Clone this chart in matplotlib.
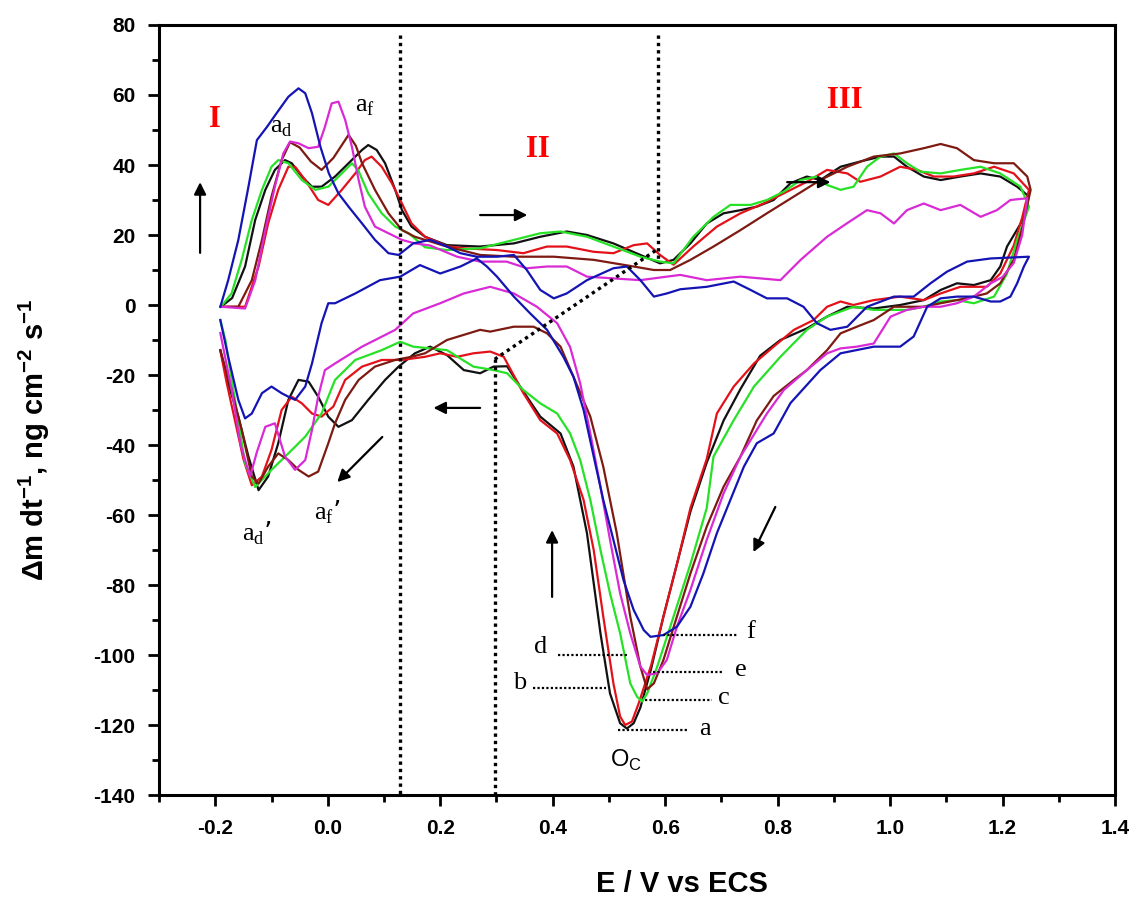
import matplotlib
matplotlib.use('Agg')
import matplotlib.pyplot as plt
import numpy as np
from matplotlib.ticker import MultipleLocator, FormatStrFormatter

plt.rcParams['axes.unicode_minus'] = False
plt.rcParams['font.family'] = 'Liberation Sans'

# (E / V, dm/dt); each loop = forward sweep then return sweep
black_fwd = [(-0.19, -0.5), (-0.17, 2), (-0.147, 11), (-0.129, 24.3), (-0.111, 32.9), (-0.094, 38.6),
             (-0.076, 41.4), (-0.064, 40.5), (-0.046, 36.7), (-0.028, 33.8), (-0.011, 33.8), (0.013, 36.7),
             (0.037, 40.5), (0.061, 44.3), (0.072, 45.7), (0.087, 44.3), (0.102, 40.5), (0.12, 32.9),
             (0.132, 27.1), (0.149, 22.4), (0.173, 19.5), (0.212, 17.1), (0.271, 16.7), (0.331, 17.6),
             (0.378, 19.5), (0.425, 21), (0.461, 20), (0.508, 17.6), (0.556, 14.3), (0.591, 11.9),
             (0.615, 12.9), (0.645, 17.6), (0.674, 23.3), (0.704, 26.2), (0.734, 27.1), (0.763, 28.1),
             (0.793, 30), (0.823, 34.8), (0.852, 36.7), (0.876, 35.7), (0.912, 39.5), (0.947, 41),
             (0.983, 42.4), (1.007, 42.4), (1.03, 39.5), (1.06, 36.7), (1.09, 35.7), (1.125, 36.7),
             (1.161, 37.6), (1.196, 36.7), (1.226, 33.8), (1.247, 31)]
black_rev = [(1.247, 31), (1.235, 24), (1.208, 16.7), (1.196, 11), (1.179, 7.1), (1.149, 5.7),
             (1.119, 6.2), (1.09, 4.3), (1.06, 1.4), (1.018, 0), (0.971, -1), (0.924, -0.5),
             (0.888, -3.3), (0.852, -6.7), (0.805, -10), (0.769, -14.5), (0.734, -24), (0.704, -33),
             (0.674, -45), (0.645, -59), (0.621, -74), (0.597, -89), (0.575, -104), (0.556, -115),
             (0.544, -119.5), (0.532, -121), (0.52, -119.5), (0.502, -111), (0.485, -93.8),
             (0.461, -65.2), (0.437, -46.2), (0.414, -36.7), (0.378, -31.9), (0.342, -23.3),
             (0.319, -17.5), (0.295, -17.6), (0.271, -19.5), (0.242, -18.6), (0.212, -14.3),
             (0.182, -11.9), (0.155, -13.8), (0.126, -17.6), (0.102, -21.4), (0.072, -27.1),
             (0.043, -32.9), (0.019, -34.8), (0.001, -31.9), (-0.017, -26.2), (-0.034, -21.9),
             (-0.052, -21.4), (-0.07, -27.1), (-0.088, -39.5), (-0.106, -49), (-0.123, -52.9),
             (-0.141, -43.3), (-0.159, -31.9), (-0.177, -22.4), (-0.191, -12.9)]

red_fwd = [(-0.19, -0.5), (-0.16, -0.5), (-0.147, -0.5), (-0.123, 11), (-0.106, 23.3), (-0.088, 32.9),
           (-0.07, 39.5), (-0.058, 39.5), (-0.04, 35.7), (-0.017, 30), (0.001, 28.6), (0.025, 32.9),
           (0.049, 37.6), (0.066, 41.4), (0.078, 42.4), (0.096, 39.5), (0.114, 34.8), (0.132, 29),
           (0.149, 23.3), (0.173, 19.5), (0.212, 16.8), (0.242, 16.2), (0.301, 15.7), (0.348, 14.8),
           (0.39, 16.7), (0.425, 16.7), (0.473, 15.2), (0.508, 14.8), (0.544, 17.1), (0.568, 17.6),
           (0.591, 14.3), (0.615, 11.5), (0.65, 16.7), (0.692, 22.4), (0.734, 26.2), (0.775, 29),
           (0.811, 31.9), (0.852, 35.2), (0.888, 38.6), (0.924, 37.6), (0.947, 35.2), (0.983, 36.7),
           (1.018, 39.5), (1.048, 38.6), (1.078, 36.7), (1.113, 36.7), (1.149, 37.6), (1.185, 39.5),
           (1.22, 37.6), (1.247, 32.9)]
red_rev = [(1.247, 32.9), (1.235, 25), (1.22, 17), (1.196, 9), (1.172, 5.2), (1.125, 5.2), (1.09, 3.3),
           (1.06, 1.4), (1.018, 2.4), (0.971, 1.4), (0.935, 0), (0.912, 1), (0.888, -0.5), (0.864, -4.3),
           (0.829, -7.1), (0.793, -11.9), (0.758, -16.7), (0.722, -23.3), (0.692, -31), (0.674, -44),
           (0.645, -58), (0.621, -74), (0.597, -89), (0.575, -103), (0.553, -113.8), (0.541, -119),
           (0.529, -120), (0.52, -117.6), (0.508, -108.1), (0.49, -89), (0.473, -70), (0.455, -55.7),
           (0.431, -44.3), (0.408, -36.7), (0.378, -32.9), (0.348, -25.2), (0.313, -14.8), (0.289, -13.3),
           (0.259, -13.8), (0.23, -14.8), (0.2, -13.8), (0.173, -14.8), (0.132, -15.7), (0.096, -15.7),
           (0.061, -17.6), (0.031, -21.4), (0.01, -29), (-0.011, -31.9), (-0.028, -31), (-0.046, -28.1),
           (-0.064, -26.2), (-0.082, -30), (-0.1, -41.4), (-0.117, -49), (-0.135, -51.5), (-0.15, -44),
           (-0.165, -33), (-0.18, -22), (-0.191, -13)]

green_fwd = [(-0.19, -0.5), (-0.171, 3.3), (-0.153, 12.9), (-0.135, 24.3), (-0.117, 32.9), (-0.1, 39.5),
             (-0.088, 41.4), (-0.07, 40.5), (-0.046, 35.7), (-0.022, 32.9), (0.001, 33.8), (0.025, 37.6),
             (0.043, 40.5), (0.054, 38.6), (0.072, 31.9), (0.096, 26.2), (0.12, 22.4), (0.144, 20.5),
             (0.173, 16.5), (0.212, 15.7), (0.271, 16.2), (0.331, 18.6), (0.378, 20.5), (0.414, 21),
             (0.461, 19.5), (0.508, 16.7), (0.556, 13.8), (0.591, 12.4), (0.615, 11.9), (0.65, 19.5),
             (0.686, 25.2), (0.716, 28.6), (0.752, 28.6), (0.781, 30), (0.811, 32.4), (0.841, 35.7),
             (0.87, 36.7), (0.888, 34.3), (0.912, 32.9), (0.935, 33.8), (0.959, 39.5), (0.983, 42.4),
             (1.007, 43.3), (1.03, 40.5), (1.054, 38.1), (1.09, 37.6), (1.125, 38.6), (1.161, 39.5),
             (1.196, 37.6), (1.232, 33.8), (1.247, 28.1)]
green_rev = [(1.247, 28.1), (1.226, 18.6), (1.208, 9), (1.185, 2.4), (1.149, 0.5), (1.119, 1.4),
             (1.09, 1), (1.06, -0.5), (1.03, -1.4), (0.971, -1.4), (0.935, -0.5), (0.888, -3.3),
             (0.852, -7.1), (0.805, -14.8), (0.758, -23.3), (0.722, -32.9), (0.686, -43.3), (0.674, -58),
             (0.645, -74), (0.615, -89), (0.586, -103.3), (0.568, -111), (0.559, -113.3), (0.55, -111.9),
             (0.538, -108.1), (0.52, -93.8), (0.502, -82.4), (0.485, -70), (0.467, -55.7), (0.449, -44.3),
             (0.431, -36.7), (0.408, -31), (0.378, -28.1), (0.348, -24.3), (0.319, -19.5), (0.295, -18.6),
             (0.259, -17.6), (0.212, -12.9), (0.152, -11.9), (0.129, -10.5), (0.096, -12.9), (0.049, -15.7),
             (0.013, -21.4), (-0.011, -31), (-0.04, -37.6), (-0.07, -42.4), (-0.1, -47.1), (-0.129, -52),
             (-0.147, -45.2), (-0.165, -27.1), (-0.182, -10), (-0.191, -4.3)]

maroon_fwd = [(-0.19, -0.5), (-0.159, -0.5), (-0.135, 7.1), (-0.117, 18.6), (-0.1, 31), (-0.082, 41.4),
              (-0.067, 46.5), (-0.05, 45), (-0.03, 41), (-0.011, 38.6), (0.01, 42), (0.037, 48.6),
              (0.05, 45.5), (0.061, 40.5), (0.084, 32.9), (0.108, 26.2), (0.132, 21.4), (0.155, 19.5),
              (0.212, 16.7), (0.271, 14.3), (0.331, 13.8), (0.402, 13.8), (0.473, 12.9), (0.544, 11),
              (0.58, 10), (0.609, 10), (0.645, 12.9), (0.686, 16.7), (0.734, 21.4), (0.781, 26.2),
              (0.829, 31), (0.876, 35.7), (0.924, 39.5), (0.971, 42.4), (1.018, 43.3), (1.06, 44.8),
              (1.09, 46), (1.119, 44.8), (1.149, 41.4), (1.185, 40.5), (1.22, 40.5), (1.244, 36.7),
              (1.25, 32.9)]
maroon_rev = [(1.25, 32.9), (1.235, 22), (1.22, 12.9), (1.196, 6.2), (1.172, 3.3), (1.149, 2.4),
              (1.119, 1.4), (1.09, 0.5), (1.06, -0.5), (1.007, -0.5), (0.971, -4.3), (0.941, -6.2),
              (0.912, -8.1), (0.888, -12.9), (0.852, -18.6), (0.829, -21.4), (0.793, -26), (0.763, -33),
              (0.734, -43.3), (0.704, -51.9), (0.674, -63.3), (0.645, -76.7), (0.621, -89), (0.597, -101.4),
              (0.58, -108.1), (0.568, -109.8), (0.556, -103.3), (0.538, -89), (0.514, -65.2), (0.49, -46.2),
              (0.467, -31.9), (0.437, -20.5), (0.414, -11.9), (0.39, -8.1), (0.366, -6.2), (0.331, -6.2),
              (0.289, -7.6), (0.271, -7.1), (0.212, -10), (0.173, -13.8), (0.149, -14.8), (0.12, -15.7),
              (0.084, -17.6), (0.055, -21.4), (0.031, -27.1), (0.013, -33.8), (0.001, -39.5),
              (-0.017, -47.6), (-0.034, -49), (-0.052, -47.1), (-0.07, -44.3), (-0.088, -42.4),
              (-0.106, -46.2), (-0.123, -51), (-0.135, -49), (-0.153, -35.7), (-0.171, -24.3),
              (-0.191, -12.9)]

magenta_fwd = [(-0.19, -0.5), (-0.147, -1), (-0.129, 7), (-0.111, 21.4), (-0.094, 33.8), (-0.079, 43.3),
               (-0.067, 46.7), (-0.052, 46.2), (-0.034, 44.8), (-0.017, 45.2), (-0.005, 50.9), (0.007, 57.6),
               (0.019, 58.1), (0.031, 52.9), (0.043, 45.2), (0.055, 35.7), (0.066, 28.1), (0.084, 22.4),
               (0.108, 20.5), (0.132, 18.6), (0.155, 17.6), (0.182, 17), (0.23, 13.8), (0.271, 12.4),
               (0.318, 12.4), (0.354, 10.5), (0.39, 11), (0.425, 11), (0.461, 8.1), (0.508, 7.6),
               (0.556, 7.1), (0.603, 8.1), (0.627, 8.6), (0.674, 7.1), (0.734, 8.1), (0.805, 7.1),
               (0.841, 12.9), (0.888, 19.5), (0.923, 23.3), (0.959, 27.1), (0.983, 26.2), (1.007, 23.3),
               (1.03, 27.1), (1.06, 29), (1.09, 27.1), (1.125, 28.6), (1.161, 25.2), (1.19, 27.1),
               (1.214, 30), (1.244, 30.5)]
magenta_rev = [(1.244, 30.5), (1.235, 20), (1.22, 12), (1.2, 8), (1.179, 6.2), (1.149, 2.4), (1.119, 0.5),
               (1.09, -0.5), (1.06, -0.5), (1.03, -1.4), (1.001, -3.3), (0.971, -11), (0.941, -11.9),
               (0.912, -12.4), (0.888, -13.8), (0.852, -18.6), (0.811, -24.3), (0.781, -31), (0.752, -38.6),
               (0.734, -43.3), (0.704, -53.8), (0.674, -67.1), (0.645, -81.4), (0.621, -91.9),
               (0.603, -101.4), (0.586, -105.2), (0.568, -105.7), (0.556, -103.3), (0.538, -93.8),
               (0.52, -82.4), (0.502, -67.1), (0.485, -51.9), (0.467, -36.7), (0.449, -22.4), (0.431, -12),
               (0.408, -5.2), (0.372, -0.5), (0.331, 3.3), (0.289, 5.2), (0.242, 3.3), (0.2, 0.5),
               (0.152, -2.4), (0.12, -7.1), (0.061, -11.9), (0.013, -16.7), (-0.005, -18.6), (-0.017, -26.2),
               (-0.028, -35.7), (-0.04, -44.3), (-0.058, -47.1), (-0.076, -43.3), (-0.094, -33.8),
               (-0.111, -34.8), (-0.126, -42), (-0.138, -49), (-0.155, -40), (-0.17, -25), (-0.191, -8)]

blue_fwd = [(-0.191, -0.5), (-0.177, 7.1), (-0.159, 18.6), (-0.141, 33.8), (-0.126, 47.1), (-0.108, 50.9),
            (-0.091, 54.8), (-0.07, 59.5), (-0.052, 61.9), (-0.04, 60.5), (-0.028, 54.8), (-0.013, 45.2),
            (0.002, 37.6), (0.019, 31.9), (0.037, 28.1), (0.061, 23.3), (0.084, 18.6), (0.108, 14.8),
            (0.126, 14.3), (0.152, 17.6), (0.182, 18.6), (0.212, 16.7), (0.236, 14.8), (0.265, 13.8),
            (0.301, 13.8), (0.331, 14.3), (0.354, 10), (0.378, 4.3), (0.402, 1.9), (0.425, 3.3),
            (0.461, 7.1), (0.508, 10.5), (0.532, 11), (0.556, 7.1), (0.58, 2.4), (0.603, 3.3),
            (0.627, 4.5), (0.674, 5.2), (0.722, 6.7), (0.752, 4.3), (0.781, 1.9), (0.817, 1.9),
            (0.846, -0.5), (0.87, -5.2), (0.894, -7.1), (0.924, -6.2), (0.959, -0.5), (1.007, 2.4),
            (1.042, 2.4), (1.072, 6.2), (1.101, 9.5), (1.137, 12.4), (1.179, 13.3), (1.247, 13.8)]
blue_rev = [(1.247, 13.8), (1.238, 11), (1.226, 6.2), (1.214, 2.4), (1.196, 1), (1.179, 1), (1.149, 2.4),
            (1.119, 2.4), (1.09, 1.9), (1.066, -0.5), (1.042, -9), (1.018, -11.9), (0.971, -11.9),
            (0.912, -13.8), (0.876, -18.6), (0.823, -28), (0.793, -36.7), (0.763, -39.5), (0.74, -46.2),
            (0.716, -55.7), (0.692, -65.2), (0.668, -76.7), (0.645, -86.2), (0.621, -91.9), (0.597, -94.3),
            (0.574, -94.8), (0.562, -92.9), (0.544, -87.1), (0.526, -78.6), (0.508, -67.1), (0.49, -55.7),
            (0.473, -43.3), (0.455, -30), (0.437, -20.5), (0.419, -14.8), (0.39, -7.1), (0.36, -2.4),
            (0.331, 2.4), (0.301, 8.1), (0.283, 11), (0.265, 13.3), (0.236, 11), (0.2, 9), (0.164, 11.4),
            (0.129, 8.1), (0.093, 7.1), (0.049, 3.3), (0.013, 0.5), (0.001, 0.5), (-0.011, -5.2),
            (-0.028, -16.7), (-0.04, -23.3), (-0.058, -27.1), (-0.07, -26.2), (-0.082, -25.2), (-0.1, -23.3),
            (-0.117, -25.2), (-0.135, -31), (-0.147, -32.4), (-0.159, -27.1), (-0.177, -14.8), (-0.191, -4.3)]

curves = [(black_fwd, black_rev, '#111111'),
          (red_fwd, red_rev, '#e3121a'),
          (green_fwd, green_rev, '#27e127'),
          (maroon_fwd, maroon_rev, '#7d1a12'),
          (magenta_fwd, magenta_rev, '#d92ad6'),
          (blue_fwd, blue_rev, '#1414b4')]

# curve labels a..f with their dotted pointer lines
peak_labels = ['a', 'b', 'c', 'd', 'e', 'f']
peak_line_y = [-121.4, -109.4, -112.9, -100.0, -104.8, -94.3]
peak_line_x0 = [0.517, 0.365, 0.565, 0.410, 0.579, 0.597]
peak_line_x1 = [0.641, 0.494, 0.684, 0.535, 0.704, 0.730]
peak_text_x = [0.670, 0.341, 0.705, 0.378, 0.734, 0.752]
peak_text_y = [-121.0, -108.0, -112.3, -97.7, -104.3, -93.5]

fig = plt.figure(figsize=(11.36, 9.09), dpi=100)
ax = fig.add_axes([0.140, 0.1254, 0.8415, 0.8471])

for fwd, rev, col in curves:
    pts = np.array(fwd + rev)
    ax.plot(pts[:, 0], pts[:, 1], color=col, lw=1.6, zorder=3)

# region separators
dot = (0, (1, 1.2))
ax.plot([0.129, 0.129], [77, -140], color='k', lw=2.4, ls=dot, zorder=4)
ax.plot([0.587, 0.587], [77, 13], color='k', lw=2.4, ls=dot, zorder=4)
ax.plot([0.297, 0.587], [-15.5, 16], color='k', lw=2.4, ls=dot, zorder=4)
ax.plot([0.297, 0.297], [-15.5, -140], color='k', lw=2.4, ls=dot, zorder=4)

for lab, ly, x0, x1, tx, ty in zip(peak_labels, peak_line_y, peak_line_x0, peak_line_x1,
                                   peak_text_x, peak_text_y):
    ax.plot([x0, x1], [ly, ly], color='k', lw=1.6, ls=(0, (1, 1)), zorder=4)
    ax.text(tx, ty, lab, family='Liberation Serif', fontsize=19, ha='center', va='center')

ax.text(0.531, -130, r'O$_\mathregular{C}$', fontsize=17, ha='center', va='center')

roman = dict(family='Liberation Serif', fontsize=22, fontweight='bold', color='#ff0000',
             ha='center', va='center')
ax.text(-0.2, 52.9, 'I', **roman)
ax.text(0.373, 44.3, 'II', **roman)
ax.text(0.92, 58.3, 'III', **roman)

serif = dict(family='Liberation Serif', fontsize=19, ha='center', va='center')
ax.text(-0.083, 50.6, r'a$_\mathregular{d}$', **serif)
ax.text(0.067, 56.6, r'a$_\mathregular{f}$', **serif)
ax.text(-0.126, -65.1, r'a$_\mathregular{d}$’', **serif)
ax.text(0.0, -59.1, r'a$_\mathregular{f}$’', **serif)

arrows = [((-0.227, 14.9), (-0.227, 35.1)),
          ((0.271, 25.7), (0.355, 25.7)),
          ((0.271, -29.4), (0.188, -29.4)),
          ((0.097, -37.7), (0.017, -50.6)),
          ((0.399, -83.4), (0.399, -64.3)),
          ((0.796, -57.7), (0.757, -70.6)),
          ((0.817, 35.1), (0.894, 35.1))]
for start, end in arrows:
    ax.annotate('', xy=end, xytext=start,
                arrowprops=dict(arrowstyle='-|>', color='k', lw=1.6, mutation_scale=18,
                                shrinkA=0, shrinkB=0), zorder=5)

# Axes settings
ax.set_xlim(-0.3, 1.4)
ax.set_ylim(-140, 80)
ax.xaxis.set_minor_locator(MultipleLocator(0.1))
ax.yaxis.set_major_locator(MultipleLocator(20))
ax.yaxis.set_minor_locator(MultipleLocator(10))
ax.set_xticks(np.arange(-0.2, 1.41, 0.2))
ax.xaxis.set_major_formatter(FormatStrFormatter('%.1f'))
ax.tick_params(which='both', direction='out', top=False, right=False, width=2)
ax.tick_params(which='major', length=8, labelsize=15, pad=9)
ax.tick_params(which='minor', length=5)
for lbl in ax.get_xticklabels() + ax.get_yticklabels():
    lbl.set_fontweight('bold')
for sp in ax.spines.values():
    sp.set_linewidth(2.2)

ax.set_xlabel('E / V vs ECS', fontsize=21, fontweight='bold')
ax.xaxis.set_label_coords(0.547, -0.098)
ax.set_ylabel(r'Δm dt$^{\mathregular{-1}}$, ng cm$^{\mathregular{-2}}$ s$^{\mathregular{-1}}$',
              fontsize=21, fontweight='bold')
ax.yaxis.set_label_coords(-0.112, 0.461)

fig.savefig('out.png', dpi=100)
